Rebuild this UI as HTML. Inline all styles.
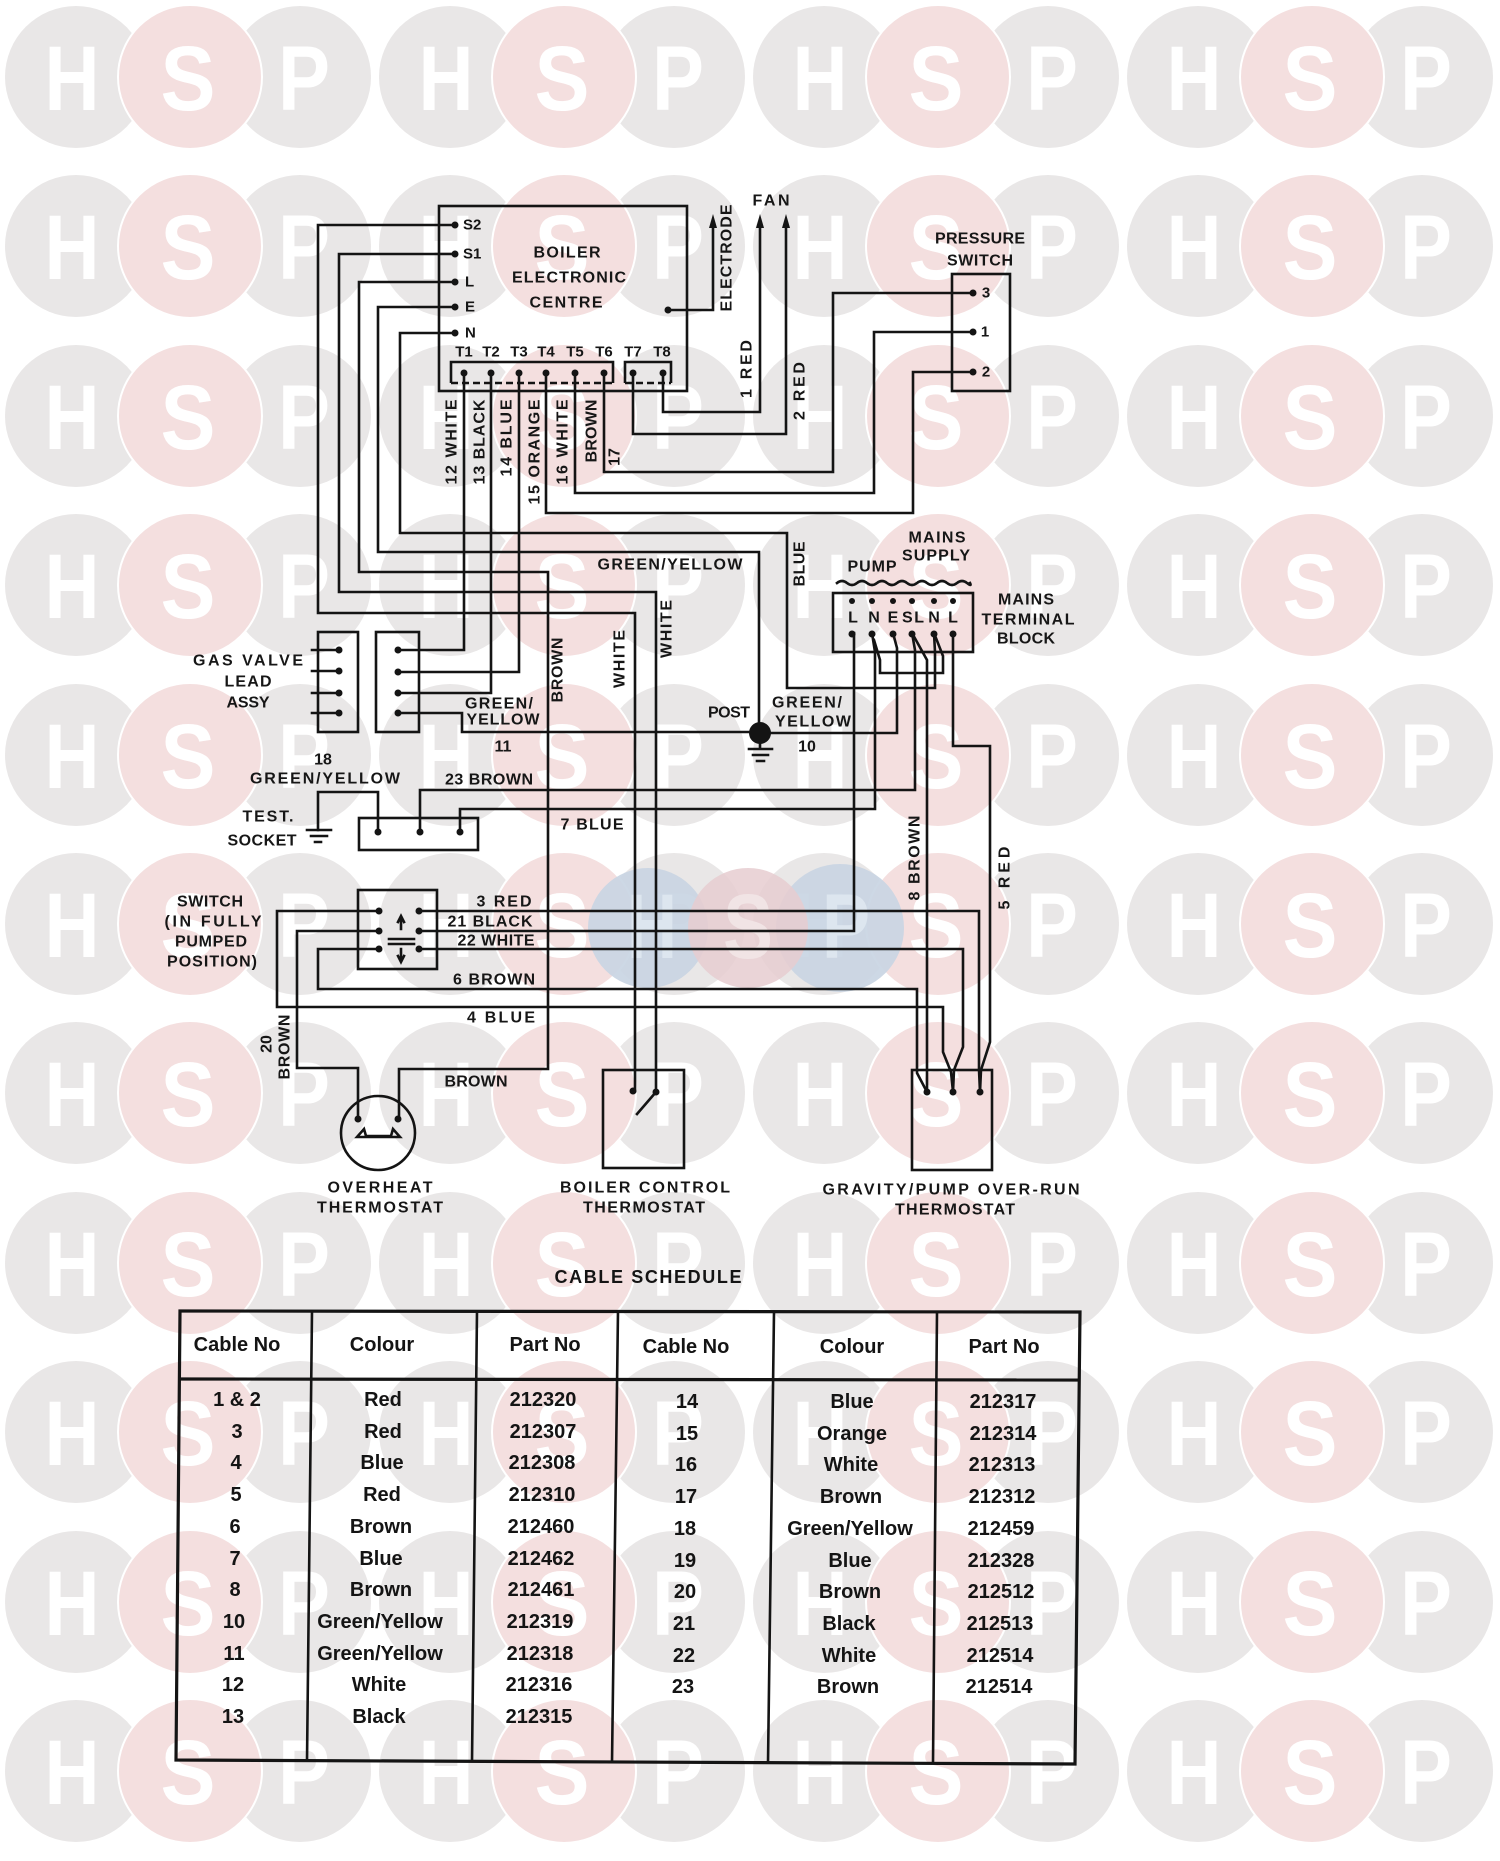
<!DOCTYPE html>
<html><head><meta charset="utf-8"><title>Wiring Diagram</title>
<style>
html,body{margin:0;padding:0;background:#fff;}
svg{display:block;}
.wm text{font-family:"Liberation Sans",Arial,sans-serif;font-weight:bold;font-size:92px;fill:#fff;text-anchor:middle;}
.g{fill:#e9e7e7;}
.p{fill:#f4dfdf;stroke:#fff;stroke-width:2;}
.w{fill:none;stroke:#141414;stroke-width:2.6;stroke-linejoin:miter;stroke-linecap:square;}
.b{fill:none;stroke:#141414;stroke-width:2.6;}
.d{fill:#141414;}
.t{font-family:"Liberation Sans",Arial,sans-serif;font-weight:bold;font-size:16px;fill:#161616;text-anchor:middle;dominant-baseline:central;}
.s{font-size:15px;}
.tb{font-family:"Liberation Sans",Arial,sans-serif;font-weight:bold;font-size:20px;fill:#141414;text-anchor:middle;dominant-baseline:central;}
</style></head>
<body>
<svg xmlns="http://www.w3.org/2000/svg" width="1500" height="1861" viewBox="0 0 1500 1861">
<rect width="1500" height="1861" fill="#fff"/>
<!-- watermark -->
<g class="wm">
<g transform="translate(0,77)"><circle class="g" cx="76" cy="0" r="71"/><circle class="g" cx="300" cy="0" r="71"/><circle class="g" cx="450" cy="0" r="71"/><circle class="g" cx="674" cy="0" r="71"/><circle class="g" cx="824" cy="0" r="71"/><circle class="g" cx="1048" cy="0" r="71"/><circle class="g" cx="1198" cy="0" r="71"/><circle class="g" cx="1422" cy="0" r="71"/><circle class="p" cx="190" cy="0" r="72"/><circle class="p" cx="564" cy="0" r="72"/><circle class="p" cx="938" cy="0" r="72"/><circle class="p" cx="1312" cy="0" r="72"/><text x="72" y="33" textLength="55" lengthAdjust="spacingAndGlyphs">H</text><text x="188" y="33" textLength="55" lengthAdjust="spacingAndGlyphs">S</text><text x="304" y="33" textLength="52" lengthAdjust="spacingAndGlyphs">P</text><text x="446" y="33" textLength="55" lengthAdjust="spacingAndGlyphs">H</text><text x="562" y="33" textLength="55" lengthAdjust="spacingAndGlyphs">S</text><text x="678" y="33" textLength="52" lengthAdjust="spacingAndGlyphs">P</text><text x="820" y="33" textLength="55" lengthAdjust="spacingAndGlyphs">H</text><text x="936" y="33" textLength="55" lengthAdjust="spacingAndGlyphs">S</text><text x="1052" y="33" textLength="52" lengthAdjust="spacingAndGlyphs">P</text><text x="1194" y="33" textLength="55" lengthAdjust="spacingAndGlyphs">H</text><text x="1310" y="33" textLength="55" lengthAdjust="spacingAndGlyphs">S</text><text x="1426" y="33" textLength="52" lengthAdjust="spacingAndGlyphs">P</text></g>
<g transform="translate(0,246)"><circle class="g" cx="76" cy="0" r="71"/><circle class="g" cx="300" cy="0" r="71"/><circle class="g" cx="450" cy="0" r="71"/><circle class="g" cx="674" cy="0" r="71"/><circle class="g" cx="824" cy="0" r="71"/><circle class="g" cx="1048" cy="0" r="71"/><circle class="g" cx="1198" cy="0" r="71"/><circle class="g" cx="1422" cy="0" r="71"/><circle class="p" cx="190" cy="0" r="72"/><circle class="p" cx="564" cy="0" r="72"/><circle class="p" cx="938" cy="0" r="72"/><circle class="p" cx="1312" cy="0" r="72"/><text x="72" y="33" textLength="55" lengthAdjust="spacingAndGlyphs">H</text><text x="188" y="33" textLength="55" lengthAdjust="spacingAndGlyphs">S</text><text x="304" y="33" textLength="52" lengthAdjust="spacingAndGlyphs">P</text><text x="446" y="33" textLength="55" lengthAdjust="spacingAndGlyphs">H</text><text x="562" y="33" textLength="55" lengthAdjust="spacingAndGlyphs">S</text><text x="678" y="33" textLength="52" lengthAdjust="spacingAndGlyphs">P</text><text x="820" y="33" textLength="55" lengthAdjust="spacingAndGlyphs">H</text><text x="936" y="33" textLength="55" lengthAdjust="spacingAndGlyphs">S</text><text x="1052" y="33" textLength="52" lengthAdjust="spacingAndGlyphs">P</text><text x="1194" y="33" textLength="55" lengthAdjust="spacingAndGlyphs">H</text><text x="1310" y="33" textLength="55" lengthAdjust="spacingAndGlyphs">S</text><text x="1426" y="33" textLength="52" lengthAdjust="spacingAndGlyphs">P</text></g>
<g transform="translate(0,416)"><circle class="g" cx="76" cy="0" r="71"/><circle class="g" cx="300" cy="0" r="71"/><circle class="g" cx="450" cy="0" r="71"/><circle class="g" cx="674" cy="0" r="71"/><circle class="g" cx="824" cy="0" r="71"/><circle class="g" cx="1048" cy="0" r="71"/><circle class="g" cx="1198" cy="0" r="71"/><circle class="g" cx="1422" cy="0" r="71"/><circle class="p" cx="190" cy="0" r="72"/><circle class="p" cx="564" cy="0" r="72"/><circle class="p" cx="938" cy="0" r="72"/><circle class="p" cx="1312" cy="0" r="72"/><text x="72" y="33" textLength="55" lengthAdjust="spacingAndGlyphs">H</text><text x="188" y="33" textLength="55" lengthAdjust="spacingAndGlyphs">S</text><text x="304" y="33" textLength="52" lengthAdjust="spacingAndGlyphs">P</text><text x="446" y="33" textLength="55" lengthAdjust="spacingAndGlyphs">H</text><text x="562" y="33" textLength="55" lengthAdjust="spacingAndGlyphs">S</text><text x="678" y="33" textLength="52" lengthAdjust="spacingAndGlyphs">P</text><text x="820" y="33" textLength="55" lengthAdjust="spacingAndGlyphs">H</text><text x="936" y="33" textLength="55" lengthAdjust="spacingAndGlyphs">S</text><text x="1052" y="33" textLength="52" lengthAdjust="spacingAndGlyphs">P</text><text x="1194" y="33" textLength="55" lengthAdjust="spacingAndGlyphs">H</text><text x="1310" y="33" textLength="55" lengthAdjust="spacingAndGlyphs">S</text><text x="1426" y="33" textLength="52" lengthAdjust="spacingAndGlyphs">P</text></g>
<g transform="translate(0,585)"><circle class="g" cx="76" cy="0" r="71"/><circle class="g" cx="300" cy="0" r="71"/><circle class="g" cx="450" cy="0" r="71"/><circle class="g" cx="674" cy="0" r="71"/><circle class="g" cx="824" cy="0" r="71"/><circle class="g" cx="1048" cy="0" r="71"/><circle class="g" cx="1198" cy="0" r="71"/><circle class="g" cx="1422" cy="0" r="71"/><circle class="p" cx="190" cy="0" r="72"/><circle class="p" cx="564" cy="0" r="72"/><circle class="p" cx="938" cy="0" r="72"/><circle class="p" cx="1312" cy="0" r="72"/><text x="72" y="33" textLength="55" lengthAdjust="spacingAndGlyphs">H</text><text x="188" y="33" textLength="55" lengthAdjust="spacingAndGlyphs">S</text><text x="304" y="33" textLength="52" lengthAdjust="spacingAndGlyphs">P</text><text x="446" y="33" textLength="55" lengthAdjust="spacingAndGlyphs">H</text><text x="562" y="33" textLength="55" lengthAdjust="spacingAndGlyphs">S</text><text x="678" y="33" textLength="52" lengthAdjust="spacingAndGlyphs">P</text><text x="820" y="33" textLength="55" lengthAdjust="spacingAndGlyphs">H</text><text x="936" y="33" textLength="55" lengthAdjust="spacingAndGlyphs">S</text><text x="1052" y="33" textLength="52" lengthAdjust="spacingAndGlyphs">P</text><text x="1194" y="33" textLength="55" lengthAdjust="spacingAndGlyphs">H</text><text x="1310" y="33" textLength="55" lengthAdjust="spacingAndGlyphs">S</text><text x="1426" y="33" textLength="52" lengthAdjust="spacingAndGlyphs">P</text></g>
<g transform="translate(0,755)"><circle class="g" cx="76" cy="0" r="71"/><circle class="g" cx="300" cy="0" r="71"/><circle class="g" cx="450" cy="0" r="71"/><circle class="g" cx="674" cy="0" r="71"/><circle class="g" cx="824" cy="0" r="71"/><circle class="g" cx="1048" cy="0" r="71"/><circle class="g" cx="1198" cy="0" r="71"/><circle class="g" cx="1422" cy="0" r="71"/><circle class="p" cx="190" cy="0" r="72"/><circle class="p" cx="564" cy="0" r="72"/><circle class="p" cx="938" cy="0" r="72"/><circle class="p" cx="1312" cy="0" r="72"/><text x="72" y="33" textLength="55" lengthAdjust="spacingAndGlyphs">H</text><text x="188" y="33" textLength="55" lengthAdjust="spacingAndGlyphs">S</text><text x="304" y="33" textLength="52" lengthAdjust="spacingAndGlyphs">P</text><text x="446" y="33" textLength="55" lengthAdjust="spacingAndGlyphs">H</text><text x="562" y="33" textLength="55" lengthAdjust="spacingAndGlyphs">S</text><text x="678" y="33" textLength="52" lengthAdjust="spacingAndGlyphs">P</text><text x="820" y="33" textLength="55" lengthAdjust="spacingAndGlyphs">H</text><text x="936" y="33" textLength="55" lengthAdjust="spacingAndGlyphs">S</text><text x="1052" y="33" textLength="52" lengthAdjust="spacingAndGlyphs">P</text><text x="1194" y="33" textLength="55" lengthAdjust="spacingAndGlyphs">H</text><text x="1310" y="33" textLength="55" lengthAdjust="spacingAndGlyphs">S</text><text x="1426" y="33" textLength="52" lengthAdjust="spacingAndGlyphs">P</text></g>
<g transform="translate(0,924)"><circle class="g" cx="76" cy="0" r="71"/><circle class="g" cx="300" cy="0" r="71"/><circle class="g" cx="450" cy="0" r="71"/><circle class="g" cx="674" cy="0" r="71"/><circle class="g" cx="824" cy="0" r="71"/><circle class="g" cx="1048" cy="0" r="71"/><circle class="g" cx="1198" cy="0" r="71"/><circle class="g" cx="1422" cy="0" r="71"/><circle class="p" cx="190" cy="0" r="72"/><circle class="p" cx="564" cy="0" r="72"/><circle class="p" cx="938" cy="0" r="72"/><circle class="p" cx="1312" cy="0" r="72"/><text x="72" y="33" textLength="55" lengthAdjust="spacingAndGlyphs">H</text><text x="188" y="33" textLength="55" lengthAdjust="spacingAndGlyphs">S</text><text x="304" y="33" textLength="52" lengthAdjust="spacingAndGlyphs">P</text><text x="446" y="33" textLength="55" lengthAdjust="spacingAndGlyphs">H</text><text x="562" y="33" textLength="55" lengthAdjust="spacingAndGlyphs">S</text><text x="678" y="33" textLength="52" lengthAdjust="spacingAndGlyphs">P</text><text x="820" y="33" textLength="55" lengthAdjust="spacingAndGlyphs">H</text><text x="936" y="33" textLength="55" lengthAdjust="spacingAndGlyphs">S</text><text x="1052" y="33" textLength="52" lengthAdjust="spacingAndGlyphs">P</text><text x="1194" y="33" textLength="55" lengthAdjust="spacingAndGlyphs">H</text><text x="1310" y="33" textLength="55" lengthAdjust="spacingAndGlyphs">S</text><text x="1426" y="33" textLength="52" lengthAdjust="spacingAndGlyphs">P</text>
<circle cx="648" cy="4" r="60" fill="#c9d5e3" fill-opacity="0.92"/><circle cx="840" cy="4" r="64" fill="#c9d5e3" fill-opacity="0.92"/><circle cx="748" cy="4" r="60" fill="#e6cdd0" fill-opacity="0.85"/><text x="652" y="34" textLength="50" lengthAdjust="spacingAndGlyphs" style="fill:#dde6ef">H</text><text x="748" y="34" textLength="50" lengthAdjust="spacingAndGlyphs" style="fill:#f1e4e5">S</text><text x="846" y="34" textLength="48" lengthAdjust="spacingAndGlyphs" style="fill:#dde6ef">P</text></g>
<g transform="translate(0,1093)"><circle class="g" cx="76" cy="0" r="71"/><circle class="g" cx="300" cy="0" r="71"/><circle class="g" cx="450" cy="0" r="71"/><circle class="g" cx="674" cy="0" r="71"/><circle class="g" cx="824" cy="0" r="71"/><circle class="g" cx="1048" cy="0" r="71"/><circle class="g" cx="1198" cy="0" r="71"/><circle class="g" cx="1422" cy="0" r="71"/><circle class="p" cx="190" cy="0" r="72"/><circle class="p" cx="564" cy="0" r="72"/><circle class="p" cx="938" cy="0" r="72"/><circle class="p" cx="1312" cy="0" r="72"/><text x="72" y="33" textLength="55" lengthAdjust="spacingAndGlyphs">H</text><text x="188" y="33" textLength="55" lengthAdjust="spacingAndGlyphs">S</text><text x="304" y="33" textLength="52" lengthAdjust="spacingAndGlyphs">P</text><text x="446" y="33" textLength="55" lengthAdjust="spacingAndGlyphs">H</text><text x="562" y="33" textLength="55" lengthAdjust="spacingAndGlyphs">S</text><text x="678" y="33" textLength="52" lengthAdjust="spacingAndGlyphs">P</text><text x="820" y="33" textLength="55" lengthAdjust="spacingAndGlyphs">H</text><text x="936" y="33" textLength="55" lengthAdjust="spacingAndGlyphs">S</text><text x="1052" y="33" textLength="52" lengthAdjust="spacingAndGlyphs">P</text><text x="1194" y="33" textLength="55" lengthAdjust="spacingAndGlyphs">H</text><text x="1310" y="33" textLength="55" lengthAdjust="spacingAndGlyphs">S</text><text x="1426" y="33" textLength="52" lengthAdjust="spacingAndGlyphs">P</text></g>
<g transform="translate(0,1263)"><circle class="g" cx="76" cy="0" r="71"/><circle class="g" cx="300" cy="0" r="71"/><circle class="g" cx="450" cy="0" r="71"/><circle class="g" cx="674" cy="0" r="71"/><circle class="g" cx="824" cy="0" r="71"/><circle class="g" cx="1048" cy="0" r="71"/><circle class="g" cx="1198" cy="0" r="71"/><circle class="g" cx="1422" cy="0" r="71"/><circle class="p" cx="190" cy="0" r="72"/><circle class="p" cx="564" cy="0" r="72"/><circle class="p" cx="938" cy="0" r="72"/><circle class="p" cx="1312" cy="0" r="72"/><text x="72" y="33" textLength="55" lengthAdjust="spacingAndGlyphs">H</text><text x="188" y="33" textLength="55" lengthAdjust="spacingAndGlyphs">S</text><text x="304" y="33" textLength="52" lengthAdjust="spacingAndGlyphs">P</text><text x="446" y="33" textLength="55" lengthAdjust="spacingAndGlyphs">H</text><text x="562" y="33" textLength="55" lengthAdjust="spacingAndGlyphs">S</text><text x="678" y="33" textLength="52" lengthAdjust="spacingAndGlyphs">P</text><text x="820" y="33" textLength="55" lengthAdjust="spacingAndGlyphs">H</text><text x="936" y="33" textLength="55" lengthAdjust="spacingAndGlyphs">S</text><text x="1052" y="33" textLength="52" lengthAdjust="spacingAndGlyphs">P</text><text x="1194" y="33" textLength="55" lengthAdjust="spacingAndGlyphs">H</text><text x="1310" y="33" textLength="55" lengthAdjust="spacingAndGlyphs">S</text><text x="1426" y="33" textLength="52" lengthAdjust="spacingAndGlyphs">P</text></g>
<g transform="translate(0,1432)"><circle class="g" cx="76" cy="0" r="71"/><circle class="g" cx="300" cy="0" r="71"/><circle class="g" cx="450" cy="0" r="71"/><circle class="g" cx="674" cy="0" r="71"/><circle class="g" cx="824" cy="0" r="71"/><circle class="g" cx="1048" cy="0" r="71"/><circle class="g" cx="1198" cy="0" r="71"/><circle class="g" cx="1422" cy="0" r="71"/><circle class="p" cx="190" cy="0" r="72"/><circle class="p" cx="564" cy="0" r="72"/><circle class="p" cx="938" cy="0" r="72"/><circle class="p" cx="1312" cy="0" r="72"/><text x="72" y="33" textLength="55" lengthAdjust="spacingAndGlyphs">H</text><text x="188" y="33" textLength="55" lengthAdjust="spacingAndGlyphs">S</text><text x="304" y="33" textLength="52" lengthAdjust="spacingAndGlyphs">P</text><text x="446" y="33" textLength="55" lengthAdjust="spacingAndGlyphs">H</text><text x="562" y="33" textLength="55" lengthAdjust="spacingAndGlyphs">S</text><text x="678" y="33" textLength="52" lengthAdjust="spacingAndGlyphs">P</text><text x="820" y="33" textLength="55" lengthAdjust="spacingAndGlyphs">H</text><text x="936" y="33" textLength="55" lengthAdjust="spacingAndGlyphs">S</text><text x="1052" y="33" textLength="52" lengthAdjust="spacingAndGlyphs">P</text><text x="1194" y="33" textLength="55" lengthAdjust="spacingAndGlyphs">H</text><text x="1310" y="33" textLength="55" lengthAdjust="spacingAndGlyphs">S</text><text x="1426" y="33" textLength="52" lengthAdjust="spacingAndGlyphs">P</text></g>
<g transform="translate(0,1602)"><circle class="g" cx="76" cy="0" r="71"/><circle class="g" cx="300" cy="0" r="71"/><circle class="g" cx="450" cy="0" r="71"/><circle class="g" cx="674" cy="0" r="71"/><circle class="g" cx="824" cy="0" r="71"/><circle class="g" cx="1048" cy="0" r="71"/><circle class="g" cx="1198" cy="0" r="71"/><circle class="g" cx="1422" cy="0" r="71"/><circle class="p" cx="190" cy="0" r="72"/><circle class="p" cx="564" cy="0" r="72"/><circle class="p" cx="938" cy="0" r="72"/><circle class="p" cx="1312" cy="0" r="72"/><text x="72" y="33" textLength="55" lengthAdjust="spacingAndGlyphs">H</text><text x="188" y="33" textLength="55" lengthAdjust="spacingAndGlyphs">S</text><text x="304" y="33" textLength="52" lengthAdjust="spacingAndGlyphs">P</text><text x="446" y="33" textLength="55" lengthAdjust="spacingAndGlyphs">H</text><text x="562" y="33" textLength="55" lengthAdjust="spacingAndGlyphs">S</text><text x="678" y="33" textLength="52" lengthAdjust="spacingAndGlyphs">P</text><text x="820" y="33" textLength="55" lengthAdjust="spacingAndGlyphs">H</text><text x="936" y="33" textLength="55" lengthAdjust="spacingAndGlyphs">S</text><text x="1052" y="33" textLength="52" lengthAdjust="spacingAndGlyphs">P</text><text x="1194" y="33" textLength="55" lengthAdjust="spacingAndGlyphs">H</text><text x="1310" y="33" textLength="55" lengthAdjust="spacingAndGlyphs">S</text><text x="1426" y="33" textLength="52" lengthAdjust="spacingAndGlyphs">P</text></g>
<g transform="translate(0,1771)"><circle class="g" cx="76" cy="0" r="71"/><circle class="g" cx="300" cy="0" r="71"/><circle class="g" cx="450" cy="0" r="71"/><circle class="g" cx="674" cy="0" r="71"/><circle class="g" cx="824" cy="0" r="71"/><circle class="g" cx="1048" cy="0" r="71"/><circle class="g" cx="1198" cy="0" r="71"/><circle class="g" cx="1422" cy="0" r="71"/><circle class="p" cx="190" cy="0" r="72"/><circle class="p" cx="564" cy="0" r="72"/><circle class="p" cx="938" cy="0" r="72"/><circle class="p" cx="1312" cy="0" r="72"/><text x="72" y="33" textLength="55" lengthAdjust="spacingAndGlyphs">H</text><text x="188" y="33" textLength="55" lengthAdjust="spacingAndGlyphs">S</text><text x="304" y="33" textLength="52" lengthAdjust="spacingAndGlyphs">P</text><text x="446" y="33" textLength="55" lengthAdjust="spacingAndGlyphs">H</text><text x="562" y="33" textLength="55" lengthAdjust="spacingAndGlyphs">S</text><text x="678" y="33" textLength="52" lengthAdjust="spacingAndGlyphs">P</text><text x="820" y="33" textLength="55" lengthAdjust="spacingAndGlyphs">H</text><text x="936" y="33" textLength="55" lengthAdjust="spacingAndGlyphs">S</text><text x="1052" y="33" textLength="52" lengthAdjust="spacingAndGlyphs">P</text><text x="1194" y="33" textLength="55" lengthAdjust="spacingAndGlyphs">H</text><text x="1310" y="33" textLength="55" lengthAdjust="spacingAndGlyphs">S</text><text x="1426" y="33" textLength="52" lengthAdjust="spacingAndGlyphs">P</text></g>
</g>

<!-- ===== DIAGRAM ===== -->
<rect class="b" x="439" y="206" width="248" height="185"/>
<path class="b" d="M451,383 V362 H613 V383"/>
<path class="b" d="M451,383 H613" stroke-dasharray="7 4" stroke-width="1.8"/>
<path class="b" d="M625,383 V362 H671 V383"/>
<path class="b" d="M625,383 H671" stroke-dasharray="7 4" stroke-width="1.8"/>
<rect class="b" x="952" y="274" width="58" height="117"/>
<rect class="b" x="318" y="632" width="40" height="100"/>
<rect class="b" x="376" y="632" width="43" height="100"/>
<rect class="b" x="359" y="818" width="119" height="32"/>
<rect class="b" x="358" y="890" width="79" height="79"/>
<rect class="b" x="833" y="593" width="140" height="59"/>
<circle class="b" cx="378" cy="1133" r="37"/>
<rect class="b" x="603" y="1070" width="81" height="98"/>
<rect class="b" x="912" y="1070" width="80" height="100"/>

<!-- wires -->
<path class="w" d="M455,225 H318 V613 H635 V1091"/>
<path class="w" d="M455,254 H339 V592 H656 V1092"/>
<path class="w" d="M455,282 H359 V572 H548 V1069 H399 V1119"/>
<path class="w" d="M455,307 H378 V552 H759 V733"/>
<path class="w" d="M455,333 H400 V533 H787 V688 H935 V652 L934,633"/>
<path class="w" d="M464,373 V650 H398"/>
<path class="w" d="M491,373 V693 H398"/>
<path class="w" d="M519,373 V672 H398"/>
<path class="w" d="M546,373 V513 H913 V372 H973"/>
<path class="w" d="M575,373 V493 H874 V332 H973"/>
<path class="w" d="M604,373 V472 H833 V293 H973"/>
<path class="w" d="M633,373 V434 H786 V224"/>
<path class="w" d="M663,373 V412 H760 V224"/>
<path class="w" d="M668,310 H713 V224"/>
<path class="w" d="M398,713 H462 V732 H760"/>
<path class="w" d="M760,733 H897 V648 L893,633"/>
<path class="w" d="M318,830 V792 H378 V832"/>
<path class="w" d="M420,832 V790 H915 V650 L912,633"/>
<path class="w" d="M460,832 V809 H875 V652 L872,633"/>
<path class="w" d="M874,640 L880,660 V673 H943 V656 L934,633"/>
<path class="w" d="M912,633 L927,660 V1092"/>
<path class="w" d="M953,633 V746 H990 V1042 L981,1070 L980,1092"/>
<path class="w" d="M419,931 H854 V633 L852,633"/>
<path class="w" d="M419,911 H979 V1070 L980,1092"/>
<path class="w" d="M419,949 H963 V1047 L954,1070 L953,1092"/>
<path class="w" d="M379,911 H277 V1007 H943 V1052 L951,1072 L953,1092"/>
<path class="w" d="M379,949 H318 V989 H917 V1073 L927,1092"/>
<path class="w" d="M379,931 H297 V1068 H358 V1119"/>
<path class="w" d="M312,650 H339 M312,671 H339 M312,693 H339 M312,713 H339"/>
<path class="w" d="M656,1092 L637,1114"/>
<path class="d" d="M709,228 L717,228 L713,214 Z M756,228 L764,228 L760,214 Z M782,228 L790,228 L786,214 Z"/>
<path class="w" d="M760,733 V748 M749,749 H772 M753,755 H768 M757,761 H764"/>
<path class="w" d="M307,830 H331 M311,836 H327 M315,842 H321"/>
<circle class="d" cx="760" cy="733" r="11"/>
<path class="w" stroke-width="2" d="M837,583 q5,-4 10,0 t10,0 t10,0 t10,0 t10,0 t10,0 t10,0 t10,0 t10,0 t10,0 t10,0 t10,0 t10,0 t3,0"/>
<path class="w" stroke-width="2" d="M401,929 V918 M398,922 L401,916 L404,922 M389,939 H414 M389,944 H414 M401,949 V960 M398,956 L401,962 L404,956"/>
<path class="w" stroke-width="2.2" d="M357,1137 L364,1129 L366,1136 H391 L393,1129 L400,1137 Z"/>

<g class="d">
<circle cx="455" cy="225" r="3.5"/><circle cx="455" cy="254" r="3.5"/><circle cx="455" cy="282" r="3.5"/><circle cx="455" cy="307" r="3.5"/><circle cx="455" cy="333" r="3.5"/>
<circle cx="464" cy="373" r="3.5"/><circle cx="491" cy="373" r="3.5"/><circle cx="519" cy="373" r="3.5"/><circle cx="546" cy="373" r="3.5"/><circle cx="575" cy="373" r="3.5"/><circle cx="604" cy="373" r="3.5"/><circle cx="633" cy="373" r="3.5"/><circle cx="663" cy="373" r="3.5"/>
<circle cx="668" cy="310" r="3.5"/>
<circle cx="973" cy="293" r="3.5"/><circle cx="973" cy="332" r="3.5"/><circle cx="973" cy="372" r="3.5"/>
<circle cx="339" cy="650" r="3.5"/><circle cx="339" cy="671" r="3.5"/><circle cx="339" cy="693" r="3.5"/><circle cx="339" cy="713" r="3.5"/>
<circle cx="398" cy="650" r="3.5"/><circle cx="398" cy="672" r="3.5"/><circle cx="398" cy="693" r="3.5"/><circle cx="398" cy="713" r="3.5"/>
<circle cx="378" cy="832" r="3.5"/><circle cx="420" cy="832" r="3.5"/><circle cx="460" cy="832" r="3.5"/>
<circle cx="379" cy="911" r="3.5"/><circle cx="379" cy="931" r="3.5"/><circle cx="379" cy="949" r="3.5"/>
<circle cx="419" cy="911" r="3.5"/><circle cx="419" cy="931" r="3.5"/><circle cx="419" cy="949" r="3.5"/>
<circle cx="852" cy="601" r="3"/><circle cx="872" cy="601" r="3"/><circle cx="893" cy="601" r="3"/><circle cx="912" cy="601" r="3"/><circle cx="934" cy="601" r="3"/><circle cx="953" cy="601" r="3"/>
<circle cx="852" cy="634" r="3.5"/><circle cx="872" cy="634" r="3.5"/><circle cx="893" cy="634" r="3.5"/><circle cx="912" cy="634" r="3.5"/><circle cx="934" cy="634" r="3.5"/><circle cx="953" cy="634" r="3.5"/>
<circle cx="358" cy="1119" r="3.5"/><circle cx="398" cy="1119" r="3.5"/>
<circle cx="633" cy="1091" r="3.5"/><circle cx="656" cy="1092" r="3.5"/>
<circle cx="927" cy="1092" r="3.5"/><circle cx="953" cy="1092" r="3.5"/><circle cx="980" cy="1092" r="3.5"/>
</g>

<g class="t">
<text x="463" y="225" style="text-anchor:start" class="s">S2</text>
<text x="463" y="254" style="text-anchor:start" class="s">S1</text>
<text x="465" y="282" style="text-anchor:start" class="s">L</text>
<text x="465" y="307" style="text-anchor:start" class="s">E</text>
<text x="465" y="333" style="text-anchor:start" class="s">N</text>
<text x="567" y="253" textLength="67">BOILER</text>
<text x="569" y="278" textLength="114">ELECTRONIC</text>
<text x="566" y="303" textLength="73">CENTRE</text>
<text x="464" y="352" class="s">T1</text><text x="491" y="352" class="s">T2</text><text x="519" y="352" class="s">T3</text><text x="546" y="352" class="s">T4</text><text x="575" y="352" class="s">T5</text><text x="604" y="352" class="s">T6</text><text x="633" y="352" class="s">T7</text><text x="662" y="352" class="s">T8</text>
<text transform="translate(452,442) rotate(-90)" textLength="85">12 WHITE</text>
<text transform="translate(480,442) rotate(-90)" textLength="85">13 BLACK</text>
<text transform="translate(507,438) rotate(-90)" textLength="77">14 BLUE</text>
<text transform="translate(535,452) rotate(-90)" textLength="105">15 ORANGE</text>
<text transform="translate(563,442) rotate(-90)" textLength="85">16 WHITE</text>
<text transform="translate(592,431) rotate(-90)" textLength="63">BROWN</text>
<text transform="translate(615,457) rotate(-90)">17</text>
<text transform="translate(727,258) rotate(-90)" textLength="107">ELECTRODE</text>
<text x="771" y="201" textLength="37">FAN</text>
<text transform="translate(747,369) rotate(-90)" textLength="58">1 RED</text>
<text transform="translate(800,391) rotate(-90)" textLength="58">2 RED</text>
<text x="980" y="239" textLength="90">PRESSURE</text>
<text x="980" y="261" textLength="66">SWITCH</text>
<text x="986" y="293" class="s">3</text><text x="985" y="332" class="s">1</text><text x="986" y="372" class="s">2</text>
<text transform="translate(800,564) rotate(-90)" textLength="45">BLUE</text>
<text x="670" y="565" textLength="145">GREEN/YELLOW</text>
<text x="937" y="538" textLength="57">MAINS</text>
<text x="936" y="556" textLength="68">SUPPLY</text>
<text x="872" y="567" textLength="49">PUMP</text>
<text x="853" y="618">L</text><text x="874" y="618">N</text><text x="893" y="618">E</text><text x="913" y="618" textLength="22">SL</text><text x="934" y="618">N</text><text x="953" y="618">L</text>
<text x="1026" y="600" textLength="56">MAINS</text>
<text x="1028" y="620" textLength="93">TERMINAL</text>
<text x="1026" y="639" textLength="58">BLOCK</text>
<text x="729" y="713" textLength="42">POST</text>
<text x="807" y="703" textLength="70">GREEN/</text>
<text x="813" y="722" textLength="76">YELLOW</text>
<text x="807" y="747">10</text>
<text x="499" y="704" textLength="68">GREEN/</text>
<text x="503" y="720" textLength="73">YELLOW</text>
<text x="503" y="747">11</text>
<text transform="translate(558,670) rotate(-90)" textLength="65">BROWN</text>
<text transform="translate(620,659) rotate(-90)" textLength="58">WHITE</text>
<text transform="translate(667,629) rotate(-90)" textLength="58">WHITE</text>
<text x="248" y="661" textLength="110">GAS VALVE</text>
<text x="248" y="682" textLength="47">LEAD</text>
<text x="248" y="703" textLength="43">ASSY</text>
<text x="323" y="760">18</text>
<text x="325" y="779" textLength="150">GREEN/YELLOW</text>
<text x="268" y="817" textLength="51">TEST.</text>
<text x="262" y="841" textLength="69">SOCKET</text>
<text x="489" y="780" textLength="88">23 BROWN</text>
<text x="592" y="825" textLength="63">7 BLUE</text>
<text x="210" y="902" textLength="66">SWITCH</text>
<text x="213" y="922" textLength="97">(IN FULLY</text>
<text x="211" y="942" textLength="72">PUMPED</text>
<text x="212" y="962" textLength="90">POSITION)</text>
<text x="504" y="902" textLength="55">3 RED</text>
<text x="490" y="922" textLength="85">21 BLACK</text>
<text x="496" y="941" textLength="77">22 WHITE</text>
<text x="494" y="980" textLength="82">6 BROWN</text>
<text x="501" y="1018" textLength="68">4 BLUE</text>
<text transform="translate(267,1044) rotate(-90)">20</text>
<text transform="translate(285,1047) rotate(-90)" textLength="65">BROWN</text>
<text x="476" y="1082" textLength="63">BROWN</text>
<text transform="translate(915,858) rotate(-90)" textLength="85">8 BROWN</text>
<text transform="translate(1005,878) rotate(-90)" textLength="63">5 RED</text>
<text x="380" y="1188" textLength="105">OVERHEAT</text>
<text x="380" y="1208" textLength="126">THERMOSTAT</text>
<text x="645" y="1188" textLength="170">BOILER CONTROL</text>
<text x="644" y="1208" textLength="122">THERMOSTAT</text>
<text x="951" y="1190" textLength="257">GRAVITY/PUMP OVER-RUN</text>
<text x="955" y="1210" textLength="120">THERMOSTAT</text>
</g>

<!-- ===== TABLE ===== -->
<text class="tb" x="648" y="1277" style="font-size:18px" textLength="187">CABLE SCHEDULE</text>
<g fill="none" stroke="#141414">
<path stroke-width="3.2" d="M180,1311 L1080,1312 L1075,1764 L176,1760 Z"/>
<path stroke-width="3.2" d="M180,1379 L1079,1380"/>
<path stroke-width="2.6" d="M312,1311 L307,1761 M477,1311 L472,1762 M618,1311 L612,1762 M774,1312 L768,1763 M937,1312 L933,1763"/>
</g>
<g class="tb">
<text x="237" y="1345">Cable No</text><text x="382" y="1345">Colour</text><text x="545" y="1345">Part No</text>
<text x="686" y="1347">Cable No</text><text x="852" y="1347">Colour</text><text x="1004" y="1347">Part No</text>

<text x="237" y="1400">1 &amp; 2</text><text x="383" y="1400">Red</text><text x="543" y="1400">212320</text>
<text x="237" y="1432">3</text><text x="383" y="1432">Red</text><text x="543" y="1432">212307</text>
<text x="236" y="1463">4</text><text x="382" y="1463">Blue</text><text x="542" y="1463">212308</text>
<text x="236" y="1495">5</text><text x="382" y="1495">Red</text><text x="542" y="1495">212310</text>
<text x="235" y="1527">6</text><text x="381" y="1527">Brown</text><text x="541" y="1527">212460</text>
<text x="235" y="1559">7</text><text x="381" y="1559">Blue</text><text x="541" y="1559">212462</text>
<text x="235" y="1590">8</text><text x="381" y="1590">Brown</text><text x="541" y="1590">212461</text>
<text x="234" y="1622">10</text><text x="380" y="1622">Green/Yellow</text><text x="540" y="1622">212319</text>
<text x="234" y="1654">11</text><text x="380" y="1654">Green/Yellow</text><text x="540" y="1654">212318</text>
<text x="233" y="1685">12</text><text x="379" y="1685">White</text><text x="539" y="1685">212316</text>
<text x="233" y="1717">13</text><text x="379" y="1717">Black</text><text x="539" y="1717">212315</text>

<text x="687" y="1402">14</text><text x="852" y="1402">Blue</text><text x="1003" y="1402">212317</text>
<text x="687" y="1434">15</text><text x="852" y="1434">Orange</text><text x="1003" y="1434">212314</text>
<text x="686" y="1465">16</text><text x="851" y="1465">White</text><text x="1002" y="1465">212313</text>
<text x="686" y="1497">17</text><text x="851" y="1497">Brown</text><text x="1002" y="1497">212312</text>
<text x="685" y="1529">18</text><text x="850" y="1529">Green/Yellow</text><text x="1001" y="1529">212459</text>
<text x="685" y="1561">19</text><text x="850" y="1561">Blue</text><text x="1001" y="1561">212328</text>
<text x="685" y="1592">20</text><text x="850" y="1592">Brown</text><text x="1001" y="1592">212512</text>
<text x="684" y="1624">21</text><text x="849" y="1624">Black</text><text x="1000" y="1624">212513</text>
<text x="684" y="1656">22</text><text x="849" y="1656">White</text><text x="1000" y="1656">212514</text>
<text x="683" y="1687">23</text><text x="848" y="1687">Brown</text><text x="999" y="1687">212514</text>
</g>
</svg>
</body></html>
